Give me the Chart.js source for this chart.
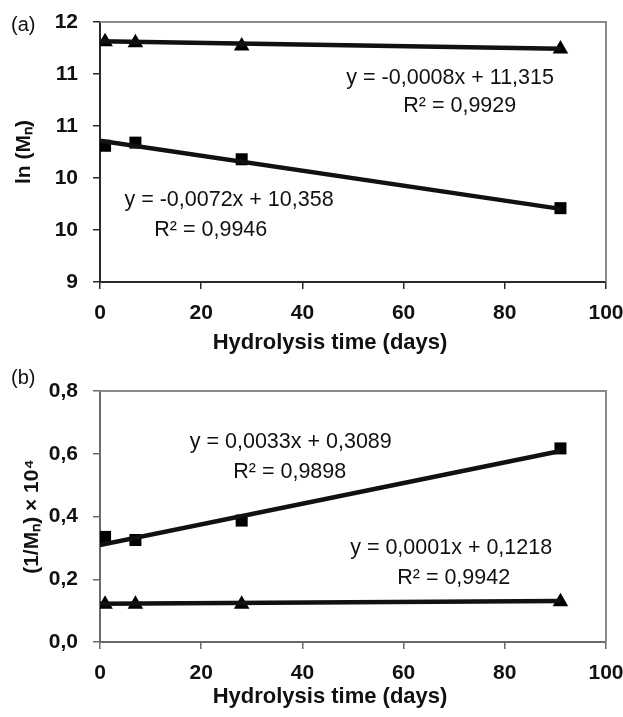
<!DOCTYPE html>
<html>
<head>
<meta charset="utf-8">
<script src="https://cdn.jsdelivr.net/npm/chart.js@4/dist/chart.umd.min.js"></script>
<style>
  body { margin: 0; background: #fff; }
  canvas { display: block; }
</style>
</head>
<body>
<canvas id="chartA" width="623" height="357"></canvas>
<canvas id="chartB" width="623" height="360"></canvas>
<script>
// hydrolysis days for the measured points and for the trendlines
const days = [1, 7, 28, 91];
const trendDays = [0, 91];

// (a) ln(Mn)
const lnTriangle = [11.31, 11.30, 11.27, 11.24];
const lnSquare = [10.31, 10.34, 10.18, 9.71];
const lnTriangleFit = [11.315, 11.242];
const lnSquareFit = [10.358, 9.703];

// (b) (1/Mn) x 10^4
const invSquare = [0.335, 0.325, 0.387, 0.617];
const invTriangle = [0.12, 0.12, 0.12, 0.128];
const invSquareFit = [0.309, 0.609];
const invTriangleFit = [0.122, 0.131];

// ticks
const xTickValues = [0, 20, 40, 60, 80, 100];
const lnTickValues = [9, 9.5, 10, 10.5, 11, 11.5];
const lnTickLabels = ['9', '10', '10', '11', '11', '12'];
const invTickValues = [0, 0.2, 0.4, 0.6, 0.8];
const invTickLabels = ['0,0', '0,2', '0,4', '0,6', '0,8'];

// equation labels
const eqTextA = ['y = -0,0008x + 11,315', 'R² = 0,9929', 'y = -0,0072x + 10,358', 'R² = 0,9946'];
const eqTextB = ['y = 0,0033x + 0,3089', 'R² = 0,9898', 'y = 0,0001x + 0,1218', 'R² = 0,9942'];

const FONT = '"Liberation Sans", Arial, sans-serif';
const pts = (xs, ys) => xs.map((x, i) => ({ x: x, y: ys[i] }));

// where the equation labels sit, in data units
const eqPosA = [[69.2, 10.96], [71.1, 10.69], [25.5, 9.79], [21.9, 9.5]];
const eqPosB = [[37.7, 0.638], [37.5, 0.542], [69.4, 0.30], [69.9, 0.204]];

const panelText = {
  id: 'panelText',
  beforeDatasetsDraw(chart) {
    const a = chart.chartArea;
    const ctx = chart.ctx;
    ctx.save();
    ctx.strokeStyle = '#8a8a8a';
    ctx.lineWidth = 2;
    ctx.beginPath();
    ctx.moveTo(a.left, a.top);
    ctx.lineTo(a.right, a.top);
    ctx.lineTo(a.right, a.bottom);
    ctx.stroke();
    ctx.restore();
  },
  afterDraw(chart) {
    const o = chart.options.plugins.panelText;
    const a = chart.chartArea;
    const ctx = chart.ctx;
    const sx = chart.scales.x, sy = chart.scales.y;
    ctx.save();
    ctx.fillStyle = '#111';
    ctx.textBaseline = 'middle';

    // panel letter
    ctx.font = '20px ' + FONT;
    ctx.textAlign = 'left';
    ctx.fillText(o.letter, 11, o.letterY);

    // equations
    ctx.textAlign = 'center';
    ctx.font = '21.5px ' + FONT;
    o.texts.forEach((t, i) => {
      ctx.fillText(t, sx.getPixelForValue(o.pos[i][0]), sy.getPixelForValue(o.pos[i][1]));
    });

    // x title
    ctx.font = 'bold 22px ' + FONT;
    ctx.fillText('Hydrolysis time (days)', 330, o.xTitleY);

    // y title
    ctx.translate(o.yTitleX, (a.top + a.bottom) / 2);
    ctx.rotate(-Math.PI / 2);
    ctx.font = 'bold 21px ' + FONT;
    ctx.fillText(o.yTitle, 0, 0);
    ctx.restore();
  }
};

function makeChart(el, cfg) {
  return new Chart(document.getElementById(el), {
    type: 'scatter',
    data: {
      datasets: [
        { data: pts(trendDays, cfg.triFit), showLine: true, borderColor: '#111', borderWidth: 4.5, pointRadius: 0 },
        { data: pts(trendDays, cfg.sqFit), showLine: true, borderColor: '#111', borderWidth: 4.5, pointRadius: 0 },
        { data: pts(days, cfg.tri), pointStyle: 'triangle', pointRadius: 9, backgroundColor: '#000', borderColor: '#000', borderWidth: 0 },
        { data: pts(days, cfg.sq), pointStyle: 'rect', pointRadius: 8.5, backgroundColor: '#000', borderColor: '#000', borderWidth: 0 }
      ]
    },
    plugins: [panelText],
    options: {
      responsive: false,
      animation: false,
      layout: { padding: { left: 0, right: 17, top: cfg.top, bottom: 0 } },
      plugins: {
        legend: { display: false },
        tooltip: { enabled: false },
        panelText: cfg.text
      },
      scales: {
        x: {
          type: 'linear',
          min: 0,
          max: 100,
          afterBuildTicks: (s) => { s.ticks = xTickValues.map(v => ({ value: v })); },
          afterFit: (s) => { s.height = 75; s.paddingLeft = 0; s.paddingRight = 0; },
          grid: { drawOnChartArea: false, color: cfg.axis, lineWidth: 1.5, tickLength: 7 },
          border: { color: cfg.axis, width: 2 },
          ticks: { color: '#111', padding: 12, font: { family: FONT, size: 21, weight: 'bold' } }
        },
        y: {
          type: 'linear',
          min: cfg.yTicks[0],
          max: cfg.yTicks[cfg.yTicks.length - 1],
          afterBuildTicks: (s) => { s.ticks = cfg.yTicks.map(v => ({ value: v })); },
          afterFit: (s) => { s.width = 100; s.paddingTop = 0; s.paddingBottom = 0; },
          grid: { drawOnChartArea: false, color: cfg.axis, lineWidth: 1.5, tickLength: 7 },
          border: { color: cfg.axis, width: 2 },
          ticks: {
            color: '#111',
            padding: 15,
            font: { family: FONT, size: 21, weight: 'bold' },
            callback: (v, i) => cfg.yLabels[i]
          }
        }
      }
    }
  });
}

makeChart('chartA', {
  tri: lnTriangle, sq: lnSquare, triFit: lnTriangleFit, sqFit: lnSquareFit,
  yTicks: lnTickValues, yLabels: lnTickLabels, top: 22, axis: '#2a2a2a',
  text: { letter: '(a)', letterY: 25, texts: eqTextA, pos: eqPosA, xTitleY: 343, yTitle: 'ln (Mₙ)', yTitleX: 24 }
});

makeChart('chartB', {
  tri: invTriangle, sq: invSquare, triFit: invTriangleFit, sqFit: invSquareFit,
  yTicks: invTickValues, yLabels: invTickLabels, top: 34, axis: '#6a6a6a',
  text: { letter: '(b)', letterY: 21, texts: eqTextB, pos: eqPosB, xTitleY: 340, yTitle: '(1/Mₙ) × 10⁴', yTitleX: 32 }
});
</script>
</body>
</html>
